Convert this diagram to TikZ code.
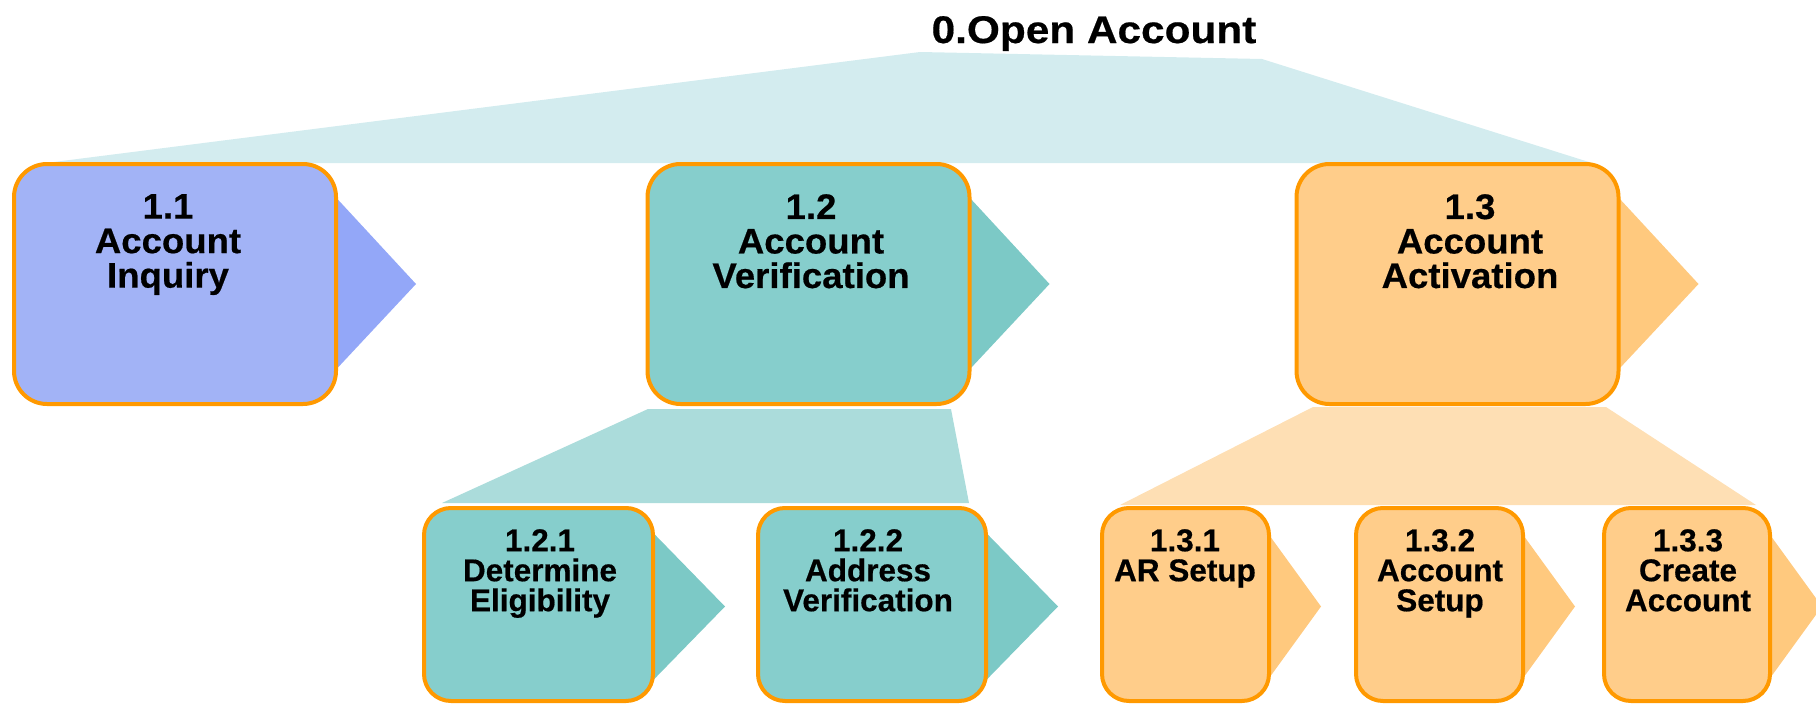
\documentclass[tikz,border=0pt]{standalone}
\usepackage{fontspec}
\setmainfont{Liberation Sans}
\newfontfamily\titlefont[FakeStretch=1.1, FakeBold=0.5]{Liberation Sans Bold}
\newfontfamily\levelonefont[FakeStretch=1.03, FakeBold=0.5]{Liberation Sans Bold}
\newfontfamily\leveltwofont[FakeBold=0.5]{Liberation Sans Bold}
\usetikzlibrary{backgrounds}

\definecolor{rimorange}{HTML}{FF9900}
\definecolor{blueface}{HTML}{A2B3F6}
\definecolor{bluetip}{HTML}{93A7F8}
\definecolor{tealface}{HTML}{86CECC}
\definecolor{tealtip}{HTML}{7CC9C6}
\definecolor{orangeface}{HTML}{FFCD8A}
\definecolor{orangetip}{HTML}{FFC97E}
\definecolor{fantop}{HTML}{D3ECEF}
\definecolor{fanteal}{HTML}{ABDCDB}
\definecolor{fanorange}{HTML}{FEDFB4}

\tikzset{
  procbox/.style={draw=rimorange, line width=4pt, inner sep=0pt, outer sep=0pt},
  bigbox/.style={procbox, rounded corners=33pt, minimum width=322pt, minimum height=240pt},
  smallbox/.style={procbox, rounded corners=27pt, minimum height=193pt},
  bigtext/.style={align=center, inner sep=0pt, anchor=north,
    font=\levelonefont\fontsize{35.5}{34.5}\selectfont},
  smalltext/.style={align=center, inner sep=0pt, anchor=north,
    font=\leveltwofont\fontsize{31.5}{30}\selectfont},
}

\begin{document}
\begin{tikzpicture}[x=1pt, y=-1pt]
  \useasboundingbox (0,0) rectangle (1816,704);
  \clip (0,0) rectangle (1816,704);

  % phase boxes
  \node[bigbox, fill=blueface]   (b11) at (175,284)   {};
  \node[bigbox, fill=tealface]   (b12) at (808.5,284) {};
  \node[bigbox, fill=orangeface] (b13) at (1457.5,284) {};

  % step boxes
  \node[smallbox, minimum width=229pt, fill=tealface]   (b121) at (538.5,604.5)  {};
  \node[smallbox, minimum width=228pt, fill=tealface]   (b122) at (872,604.5)    {};
  \node[smallbox, minimum width=167pt, fill=orangeface] (b131) at (1185.5,604.5) {};
  \node[smallbox, minimum width=167pt, fill=orangeface] (b132) at (1439.5,604.5) {};
  \node[smallbox, minimum width=166pt, fill=orangeface] (b133) at (1687,604.5)   {};

  \begin{pgfonlayer}{background}
    % fan from the title down to the three phases
    \fill[fantop] (46,163) -- (920,52) -- (1262,59) -- (1592,163) -- cycle;
    % fans from phases 1.2 and 1.3 to their steps
    \fill[fanteal]   (648,409) -- (951,409) -- (969,503) -- (442,503) -- cycle;
    \fill[fanorange] (1313,407) -- (1606,407) -- (1756,505) -- (1120,505) -- cycle;

    % arrow heads behind the boxes
    \foreach \b/\c in {b11/bluetip, b12/tealtip, b13/orangetip} {
      \fill[\c] ([xshift=-6pt, yshift=93pt]\b.east) -- ([xshift=80pt]\b.east)
        -- ([xshift=-6pt, yshift=-92pt]\b.east) -- cycle;
    }
    \foreach \b/\c/\l in {b121/tealtip/72, b122/tealtip/72, b131/orangetip/52,
                          b132/orangetip/52, b133/orangetip/52} {
      \fill[\c] ([xshift=-6pt, yshift=78pt]\b.east) -- ([xshift=\l pt, yshift=-2pt]\b.east)
        -- ([xshift=-6pt, yshift=-82pt]\b.east) -- cycle;
    }
  \end{pgfonlayer}

  % labels
  \node[anchor=base, inner sep=0pt, font=\titlefont\fontsize{38.5}{40}\selectfont]
    (title) at (1094,43) {0.Open Account};

  \node[bigtext] (t11) at (168,194)  {1.1\\Account\\Inquiry};
  \node[bigtext] (t12) at (811,194)  {1.2\\Account\\Verification};
  \node[bigtext] (t13) at (1470,194) {1.3\\Account\\Activation};

  \node[smalltext] (t121) at (540,529)  {1.2.1\\Determine\\Eligibility};
  \node[smalltext] (t122) at (868,529)  {1.2.2\\Address\\Verification};
  \node[smalltext] (t131) at (1185,529) {1.3.1\\AR Setup};
  \node[smalltext] (t132) at (1440,529) {1.3.2\\Account\\Setup};
  \node[smalltext] (t133) at (1688,529) {1.3.3\\Create\\Account};
\end{tikzpicture}
\end{document}
